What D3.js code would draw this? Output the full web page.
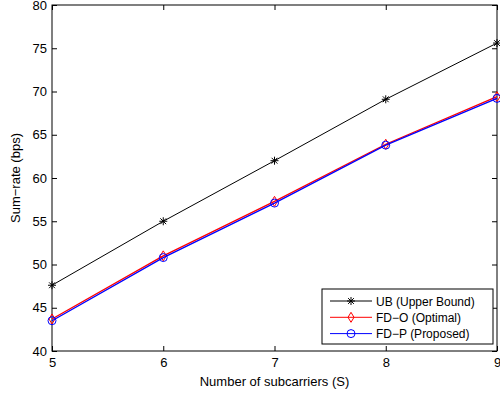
<!DOCTYPE html>
<html>
<head>
<meta charset="utf-8">
<script src="https://cdn.jsdelivr.net/npm/d3@7"></script>
<style>
  body { margin: 0; background: #fff; }
  svg { display: block; font-family: "Liberation Sans", Arial, sans-serif; }
</style>
</head>
<body>
<div class="chart"></div>
<script>
// data
var subcarriers = [5, 6, 7, 8, 9];
var ubValues = [47.6, 55.0, 62.0, 69.1, 75.6];
var fdoValues = [43.7, 51.0, 57.3, 63.9, 69.4];
var fdpValues = [43.5, 50.8, 57.1, 63.8, 69.2];
var xTicks = [5, 6, 7, 8, 9];
var yTicks = [40, 45, 50, 55, 60, 65, 70, 75, 80];
var seriesNames = ["UB (Upper Bound)", "FD\u2212O (Optimal)", "FD\u2212P (Proposed)"];

var width = 500, height = 394;
var box = { left: 52, right: 497, top: 5, bottom: 351 };

var svg = d3.select(".chart")
	.append("svg")
	.attr("width", width)
	.attr("height", height);

var x = d3.scaleLinear().domain([5, 9]).range([box.left, box.right]);
var y = d3.scaleLinear().domain([40, 80]).range([box.bottom, box.top]);

var series = [
	{ name: seriesNames[0], values: ubValues, color: "#000", marker: "star", lw: 1 },
	{ name: seriesNames[1], values: fdoValues, color: "#ff0000", marker: "diamond", lw: 1.3 },
	{ name: seriesNames[2], values: fdpValues, color: "#0000ff", marker: "circle", lw: 1.3 }
];

// axes, ticks pointing inward like matlab
var tickLen = 5;
svg.append("g")
	.attr("transform", "translate(0," + box.bottom + ")")
	.call(d3.axisBottom(x).tickValues(xTicks).tickSize(-tickLen).tickPadding(7).tickFormat(d3.format("d")))
	.call(function(g){ g.select(".domain").remove(); });
svg.append("g")
	.attr("transform", "translate(0," + box.top + ")")
	.call(d3.axisTop(x).tickValues(xTicks).tickSize(-tickLen).tickFormat(""))
	.call(function(g){ g.select(".domain").remove(); });
svg.append("g")
	.attr("transform", "translate(" + box.left + ",0)")
	.call(d3.axisLeft(y).tickValues(yTicks).tickSize(-tickLen).tickPadding(5).tickFormat(d3.format("d")))
	.call(function(g){ g.select(".domain").remove(); });
svg.append("g")
	.attr("transform", "translate(" + box.right + ",0)")
	.call(d3.axisRight(y).tickValues(yTicks).tickSize(-tickLen).tickFormat(""))
	.call(function(g){ g.select(".domain").remove(); });

svg.selectAll(".tick text")
	.attr("font-size", 13)
	.attr("fill", "#000")
	.attr("font-family", "Liberation Sans, Arial, sans-serif");
svg.selectAll(".tick line").attr("stroke", "#000");

svg.append("rect")
	.attr("x", box.left)
	.attr("y", box.top)
	.attr("width", box.right - box.left)
	.attr("height", box.bottom - box.top)
	.attr("fill", "none")
	.attr("stroke", "#000")
	.attr("stroke-width", 1);

// markers
var starPath = "M-4,0H4M0,-4V4M-2.9,-2.9L2.9,2.9M-2.9,2.9L2.9,-2.9";
var diamondPath = "M0,-5L3,0L0,5L-3,0Z";

function drawMarker(sel, marker, color){
	if (marker === "star") {
		sel.append("path").attr("d", starPath).attr("stroke", color).attr("stroke-width", 1).attr("fill", "none");
	} else if (marker === "diamond") {
		sel.append("path").attr("d", diamondPath).attr("stroke", color).attr("stroke-width", 1).attr("fill", "none");
	} else {
		sel.append("circle").attr("r", 4).attr("stroke", color).attr("stroke-width", 1).attr("fill", "none");
	}
}

var line = d3.line()
	.x(function(d, i){ return x(subcarriers[i]); })
	.y(function(d){ return y(d); });

series.forEach(function(s){
	svg.append("path")
		.datum(s.values)
		.attr("d", line)
		.attr("fill", "none")
		.attr("stroke", s.color)
		.attr("stroke-width", s.lw);
	s.values.forEach(function(v, i){
		var m = svg.append("g").attr("transform", "translate(" + x(subcarriers[i]) + "," + y(v) + ")");
		drawMarker(m, s.marker, s.color);
	});
});

// legend
var legend = svg.append("g").attr("transform", "translate(322,289)");
legend.append("rect")
	.attr("width", 171)
	.attr("height", 55)
	.attr("fill", "#fff")
	.attr("stroke", "#000");
series.forEach(function(s, i){
	var row = legend.append("g").attr("transform", "translate(0," + (12 + i * 16.3) + ")");
	row.append("line").attr("x1", 8).attr("x2", 50).attr("stroke", s.color).attr("stroke-width", 1);
	drawMarker(row.append("g").attr("transform", "translate(29,0)"), s.marker, s.color);
	row.append("text")
		.attr("x", 54)
		.attr("y", 4.5)
		.attr("font-size", 12)
		.text(s.name);
});

// axis labels
svg.append("text")
	.attr("x", (box.left + box.right) / 2)
	.attr("y", 386)
	.attr("text-anchor", "middle")
	.attr("font-size", 13)
	.text("Number of subcarriers (S)");
svg.append("text")
	.attr("transform", "translate(20," + ((box.top + box.bottom) / 2) + ") rotate(-90)")
	.attr("text-anchor", "middle")
	.attr("font-size", 13)
	.text("Sum\u2212rate (bps)");
</script>
</body>
</html>
